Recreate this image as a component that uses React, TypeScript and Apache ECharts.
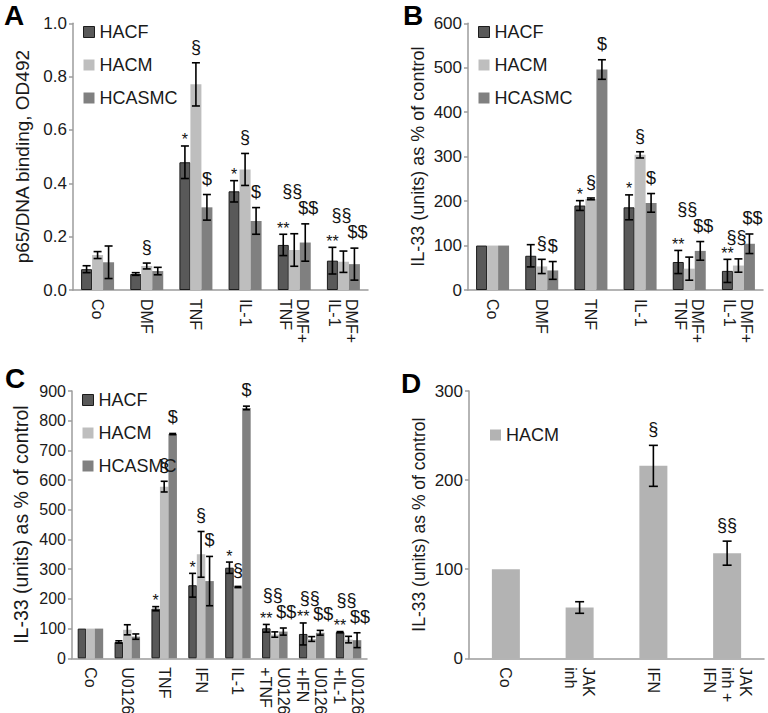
import React, { useEffect, useRef } from 'react';
import * as echarts from 'echarts';

// ---------- Panel A : p65/DNA binding ----------
const aCategories = ['Co', 'DMF', 'TNF', 'IL-1', 'DMF+\nTNF', 'DMF+\nIL-1'];
const aHACF = [0.078, 0.06, 0.479, 0.37, 0.169, 0.11];
const aHACFErr = [0.013, 0.005, 0.061, 0.04, 0.04, 0.05];
const aHACM = [0.131, 0.09, 0.771, 0.452, 0.15, 0.106];
const aHACMErr = [0.013, 0.011, 0.081, 0.06, 0.061, 0.04];
const aHCASMC = [0.104, 0.071, 0.31, 0.259, 0.178, 0.097];
const aHCASMCErr = [0.061, 0.014, 0.048, 0.05, 0.07, 0.06];
const aHACFMarks = ['', '', '*', '*', '**', '**'];
const aHACMMarks = ['', '§', '§', '§', '§§', '§§'];
const aHCASMCMarks = ['', '', '$', '$', '$$', '$$'];
const aYMax = 1.0;
const aYStep = 0.2;

// ---------- Panel B : IL-33 ----------
const bCategories = ['Co', 'DMF', 'TNF', 'IL-1', 'DMF+\nTNF', 'DMF+\nIL-1'];
const bHACF = [100, 77, 190, 186, 63, 43];
const bHACFErr = [0, 25, 11, 28, 26, 26];
const bHACM = [100, 53, 205, 304, 48, 55];
const bHACMErr = [0, 16, 2, 7, 26, 15];
const bHCASMC = [100, 44, 496, 196, 88, 104];
const bHCASMCErr = [0, 20, 22, 21, 21, 22];
const bHACFMarks = ['', '', '*', '*', '**', '**'];
const bHACMMarks = ['', '§', '§', '§', '§§', '§§'];
const bHCASMCMarks = ['', '$', '$', '$', '$$', '$$'];
const bYMax = 600;
const bYStep = 100;

// ---------- Panel C : IL-33 with U0126 ----------
const cCategories = ['Co', 'U0126', 'TNF', 'IFN', 'IL-1', 'U0126\n+TNF', 'U0126\n+IFN', 'U0126\n+IL-1'];
const cHACF = [100, 55, 167, 246, 305, 101, 82, 88];
const cHACFErr = [0, 4, 7, 40, 19, 13, 37, 2];
const cHACM = [100, 96, 578, 350, 240, 80, 65, 63];
const cHACMErr = [0, 17, 18, 77, 2, 9, 8, 11];
const cHCASMC = [100, 73, 755, 260, 843, 90, 86, 61];
const cHCASMCErr = [0, 9, 2, 83, 6, 12, 8, 25];
const cHACFMarks = ['', '', '*', '*', '*', '**', '**', '**'];
const cHACMMarks = ['', '', '§', '§', '§', '§§', '§§', '§§'];
const cHCASMCMarks = ['', '', '$', '$', '$', '$$', '$$', '$$'];
const cYMax = 900;
const cYStep = 100;

// ---------- Panel D : IL-33 with JAK inhibitor ----------
const dCategories = ['Co', 'JAK\ninh', 'IFN', 'JAK\ninh +\nIFN'];
const dHACM = [100, 57, 216, 118];
const dHACMErr = [0, 6.5, 23, 13.5];
const dHACMMarks = ['', '', '§', '§§'];
const dYMax = 300;
const dYStep = 100;

const FONT = '"Liberation Sans", Arial, Helvetica, sans-serif';
const TXT = '#1a1a1a';
const AXIS = '#9c9c9c';
const C_HACF = '#595959';
const C_HACF_BORDER = '#1c1c1c';
const C_HACM = '#bebebe';
const C_HCASMC = '#808080';
const C_HACM_D = '#b3b3b3';

const MARK_FS = 18;
const STAR_FS = 16;
const GAP = 7; // space between an error bar top and a § / $ mark
const STAR_DROP = 2; // asterisks sit high in their text box

type S = { name: string; values: number[]; errs: number[]; marks: string[]; color: string; border?: string };
type P = {
  cats: string[];
  series: S[];
  grid: { left: number; top: number; width: number; height: number };
  max: number;
  step: number;
  decimals: number;
  barWidth: number;
  cap: number;
  yName: string;
  yNameSize: number;
  tickFont: number;
  legend: { left: number; top: number };
  catFont: number;
  catLine: number;
  letter: { text: string; left: number; top: number };
};

const three = (v1: number[], e1: number[], m1: string[], v2: number[], e2: number[], m2: string[], v3: number[], e3: number[], m3: string[]): S[] => [
  { name: 'HACF', values: v1, errs: e1, marks: m1, color: C_HACF, border: C_HACF_BORDER },
  { name: 'HACM', values: v2, errs: e2, marks: m2, color: C_HACM },
  { name: 'HCASMC', values: v3, errs: e3, marks: m3, color: C_HCASMC },
];

const panels: P[] = [
  {
    cats: aCategories,
    series: three(aHACF, aHACFErr, aHACFMarks, aHACM, aHACMErr, aHACMMarks, aHCASMC, aHCASMCErr, aHCASMCMarks),
    grid: { left: 73, top: 23.3, width: 295, height: 266.7 },
    max: aYMax, step: aYStep, decimals: 1, barWidth: 11, cap: 4,
    yName: 'p65/DNA binding, OD492', yNameSize: 19, tickFont: 17,
    legend: { left: 78, top: 18 }, catFont: 16, catLine: 17,
    letter: { text: 'A', left: 4, top: 1 },
  },
  {
    cats: bCategories,
    series: three(bHACF, bHACFErr, bHACFMarks, bHACM, bHACMErr, bHACMMarks, bHCASMC, bHCASMCErr, bHCASMCMarks),
    grid: { left: 468, top: 23.3, width: 295, height: 266.7 },
    max: bYMax, step: bYStep, decimals: 0, barWidth: 11, cap: 4,
    yName: 'IL-33 (units) as % of control', yNameSize: 18, tickFont: 17,
    legend: { left: 473, top: 18 }, catFont: 16, catLine: 17,
    letter: { text: 'B', left: 403, top: 1 },
  },
  {
    cats: cCategories,
    series: three(cHACF, cHACFErr, cHACFMarks, cHACM, cHACMErr, cHACMMarks, cHCASMC, cHCASMCErr, cHCASMCMarks),
    grid: { left: 72, top: 391, width: 295, height: 267.3 },
    max: cYMax, step: cYStep, decimals: 0, barWidth: 8.5, cap: 3.5,
    yName: 'IL-33 (units) as % of control', yNameSize: 19.5, tickFont: 16,
    legend: { left: 77, top: 386 }, catFont: 16, catLine: 18,
    letter: { text: 'C', left: 5, top: 364 },
  },
  {
    cats: dCategories,
    series: [{ name: 'HACM', values: dHACM, errs: dHACMErr, marks: dHACMMarks, color: C_HACM_D }],
    grid: { left: 469, top: 391, width: 295, height: 267.3 },
    max: dYMax, step: dYStep, decimals: 0, barWidth: 28, cap: 4.5,
    yName: 'IL-33 (units) as % of control', yNameSize: 17.5, tickFont: 17,
    legend: { left: 485, top: 421 }, catFont: 16, catLine: 18,
    letter: { text: 'D', left: 401, top: 369 },
  },
];

const isStar = (m: string) => m.startsWith('*');
const markFs = (m: string) => (isStar(m) ? STAR_FS : MARK_FS);
const markW = (m: string) => m.length * (isStar(m) ? 0.389 : 0.556) * markFs(m);
// visible glyph extent relative to the text box bottom y
const glyphTop = (m: string, y: number) => y - 0.88 * markFs(m);
const glyphBot = (m: string, y: number) => (isStar(m) ? y - 0.58 * markFs(m) : y);
// small horizontal nudges of the double significance marks, by series position
const markDx = (n: number, k: number, m: string) => (n === 3 && m.length > 1 ? (k === 1 ? -2 : k === 2 ? 3 : 0) : 0);

function rawBottom(p: P, k: number, i: number, api: any): number {
  const s = p.series[k];
  const top = api.coord([i, s.values[i] + s.errs[i]])[1];
  return isStar(s.marks[i]) ? top + STAR_DROP : top - GAP;
}

function labelBottom(p: P, k: number, i: number, api: any): number {
  const s = p.series[k];
  let own = rawBottom(p, k, i, api);
  const n = p.series.length;
  if (n === 3 && k === 1) {
    const m1 = s.marks[i];
    // keep the HACM mark clear of the HACF and HCASMC marks
    for (let iter = 0; iter < 4; iter++) {
      let moved = false;
      for (const j of [2, 0]) {
        const o = p.series[j];
        const m2 = o.marks[i];
        if (!m2) continue;
        const b2 = rawBottom(p, j, i, api);
        const gT = glyphTop(m2, b2);
        const gB = glyphBot(m2, b2);
        const dist = p.barWidth + Math.abs(markDx(n, j, m2) - markDx(n, k, m1));
        const xOverlap = (markW(m1) + markW(m2)) / 2 > dist + 0.5;
        const yOverlap = glyphBot(m1, own) > gT + 2 && glyphTop(m1, own) < gB - 2;
        if (xOverlap && yOverlap) {
          own = gT - 1;
          moved = true;
        }
      }
      if (!moved) break;
    }
  }
  return own;
}

function errSeries(p: P, pi: number, k: number) {
  const s = p.series[k];
  const n = p.series.length;
  return {
    type: 'custom',
    name: s.name + '-err',
    xAxisIndex: pi,
    yAxisIndex: pi,
    silent: true,
    z: 5,
    encode: { x: 0, y: 1 },
    data: p.cats.map((_c, i) => [i, s.values[i]]),
    renderItem: (params: any, api: any) => {
      const i = params.dataIndex;
      const center = api.coord([i, 0]);
      const x = center[0] + (k - (n - 1) / 2) * p.barWidth;
      const v = s.values[i];
      const e = s.errs[i];
      const children: any[] = [];
      if (e > 0) {
        const yT = api.coord([i, v + e])[1];
        const yB = api.coord([i, v - e])[1];
        const ls = { stroke: '#000', lineWidth: 1.6 };
        children.push({ type: 'line', shape: { x1: x, y1: yT, x2: x, y2: yB }, style: ls });
        children.push({ type: 'line', shape: { x1: x - p.cap, y1: yT, x2: x + p.cap, y2: yT }, style: ls });
        children.push({ type: 'line', shape: { x1: x - p.cap, y1: yB, x2: x + p.cap, y2: yB }, style: ls });
      }
      const m = s.marks[i];
      if (m) {
        const y = labelBottom(p, k, i, api);
        children.push({
          type: 'text',
          style: {
            text: m, x: x + markDx(n, k, m), y, align: 'center', verticalAlign: 'bottom',
            fontSize: markFs(m), fontFamily: FONT, fill: '#111111',
          },
        });
      }
      return { type: 'group', children };
    },
  };
}

function buildOption() {
  const lineStyle = { color: AXIS, width: 1.5 };
  const series: any[] = [];
  panels.forEach((p, pi) => {
    p.series.forEach((s) => {
      series.push({
        type: 'bar',
        name: s.name,
        xAxisIndex: pi,
        yAxisIndex: pi,
        data: s.values,
        barWidth: p.barWidth,
        barGap: '0%',
        silent: true,
        itemStyle: { color: s.color, borderColor: s.border || s.color, borderWidth: s.border ? 1 : 0 },
      });
    });
    p.series.forEach((_s, k) => series.push(errSeries(p, pi, k)));
  });
  return {
    animation: false,
    backgroundColor: '#ffffff',
    textStyle: { fontFamily: FONT },
    grid: panels.map((p) => ({ ...p.grid, containLabel: false, outerBoundsMode: 'none' })),
    xAxis: panels.map((p, pi) => ({
      type: 'category',
      gridIndex: pi,
      data: p.cats,
      axisLine: { show: true, lineStyle },
      axisTick: { show: false },
      splitLine: { show: false },
      axisLabel: {
        interval: 0, rotate: -90, margin: 9, fontSize: p.catFont, lineHeight: p.catLine,
        color: TXT, fontFamily: FONT,
      },
    })),
    yAxis: panels.map((p, pi) => ({
      type: 'value',
      gridIndex: pi,
      min: 0,
      max: p.max,
      interval: p.step,
      axisLine: { show: true, lineStyle },
      axisTick: { show: true, length: 4, lineStyle },
      splitLine: { show: false },
      axisLabel: {
        fontSize: p.tickFont, color: TXT, fontFamily: FONT, margin: 6,
        formatter: (v: number) => v.toFixed(p.decimals),
      },
      name: p.yName,
      nameLocation: 'middle',
      nameGap: 41,
      nameTextStyle: { fontSize: p.yNameSize, color: TXT, fontFamily: FONT },
    })),
    legend: panels.map((p) => ({
      orient: 'vertical',
      left: p.legend.left,
      top: p.legend.top,
      itemWidth: 11,
      itemHeight: 11,
      itemGap: 15,
      icon: 'rect',
      selectedMode: false,
      textStyle: { fontSize: 18, color: TXT, fontFamily: FONT },
      data: p.series.map((s) => ({
        name: s.name,
        itemStyle: { color: s.color, borderColor: s.border || s.color, borderWidth: s.border ? 1 : 0 },
      })),
    })),
    graphic: panels.map((p) => ({
      type: 'text',
      left: p.letter.left,
      top: p.letter.top,
      style: { text: p.letter.text, fill: '#000', font: `bold 28px ${FONT}` },
    })),
    series,
  };
}

export default function App() {
  const ref = useRef<HTMLDivElement>(null);
  useEffect(() => {
    if (!ref.current) return;
    const chart = echarts.init(ref.current, undefined, { renderer: 'svg' });
    chart.setOption(buildOption() as any);
    return () => chart.dispose();
  }, []);
  return (
    <div
      ref={ref}
      style={{ position: 'fixed', left: 0, top: 0, width: 768, height: 713, background: '#fff' }}
    />
  );
}
